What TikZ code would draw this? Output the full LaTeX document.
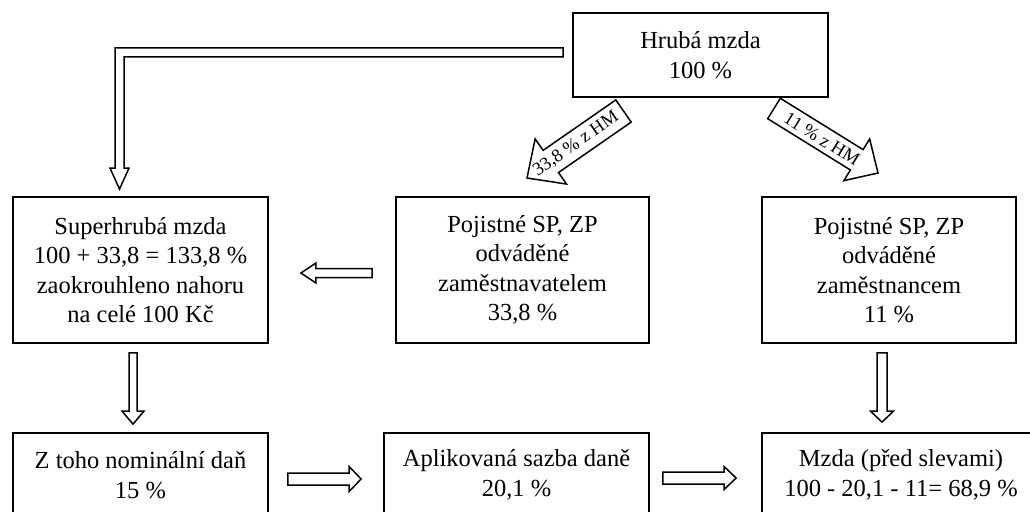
\documentclass[tikz,border=0pt]{standalone}
\usepackage{fontspec}
\setmainfont{Liberation Serif}
\usetikzlibrary{calc}
\newcommand\hollowarrow[6]{% name, start, tip, half shaft, half head, head length
  \coordinate (#1b) at ($(#3)!#6!(#2)$);
  \draw[arr] ($(#2)!#4!90:(#3)$) -- ($(#1b)!#4!90:(#3)$) -- ($(#1b)!#5!90:(#3)$) -- (#3)
    -- ($(#1b)!#5!-90:(#3)$) -- ($(#1b)!#4!-90:(#3)$) -- ($(#2)!#4!-90:(#3)$) -- cycle;}
\begin{document}
\begin{tikzpicture}[x=1pt,y=-1pt,
  box/.style={draw, line width=1.8pt, inner sep=0pt, align=center,
    font=\fontsize{24.5}{29.5}\selectfont},
  arr/.style={draw, fill=white, line width=1.5pt, line join=miter},
  lbl/.style={font=\fontsize{18.5}{18.5}\selectfont, inner sep=0pt}]
\useasboundingbox[fill=white] (0,0) rectangle (1030,511);
% boxes
\node[box, minimum width=255pt, minimum height=84pt] (hm) at (700.5,55) {Hrubá mzda\\100 \%};
\node[box, minimum width=255pt, minimum height=146pt] (shm) at (140.5,270)
  {Superhrubá mzda\\100 + 33,8 = 133,8 \%\\zaokrouhleno nahoru\\na celé 100 Kč};
\node[box, minimum width=253pt, minimum height=146pt] (emp) at (522.5,270)
  {Pojistné SP, ZP\\odváděné\\zaměstnavatelem\\33,8 \%};
\node[box, minimum width=254pt, minimum height=146pt] (zam) at (889,270)
  {Pojistné SP, ZP\\odváděné\\zaměstnancem\\11 \%};
\node[box, minimum width=255pt, minimum height=84pt] (nom) at (140.5,475)
  {Z toho nominální daň\\15 \%};
\node[box, minimum width=265pt, minimum height=84pt] (apl) at (516.5,475)
  {Aplikovaná sazba daně\\20,1 \%};
\node[box, minimum width=278pt, minimum height=84pt] (mz) at (901,475)
  {Mzda (před slevami)\\100 - 20,1 - 11= 68,9 \%};
% L-shaped arrow from Hrubá mzda to Superhrubá mzda
\coordinate (ls) at ($(hm.west)+(-9,-2.5)$);
\coordinate (lt) at ($(shm.north)+(-21,-7)$);
\coordinate (lc) at (lt |- ls);
\draw[arr] ($(ls)+(0,-4.5)$) -- ($(lc)+(-4.5,-4.5)$) -- ($(lt)+(-4.5,-21)$)
  -- ($(lt)+(-9.5,-21)$) -- (lt) -- ($(lt)+(9.5,-21)$) -- ($(lt)+(4.5,-21)$)
  -- ($(lc)+(4.5,4.5)$) -- ($(ls)+(0,4.5)$) -- cycle;
% diagonal arrows
\coordinate (d1s) at (623.5,111);
\coordinate (d1t) at (527,178);
\hollowarrow{d1}{d1s}{d1t}{13.5pt}{27.5pt}{29pt}
\node[lbl, rotate=34.8] (l1) at (576,144) {33,8 \% z HM};
\coordinate (d2s) at (774,108.5);
\coordinate (d2t) at (878,173);
\hollowarrow{d2}{d2s}{d2t}{12pt}{24.5pt}{25pt}
\node[lbl, rotate=-31.8] (l2) at (822,139) {11 \% z HM};
% other arrows
\coordinate (a1s) at ($(emp.west)+(-23,3)$);
\coordinate (a1t) at ($(shm.east)+(32,3)$);
\hollowarrow{a1}{a1s}{a1t}{4.5pt}{10pt}{15pt}
\coordinate (a2s) at ($(shm.south)+(-7.5,9)$);
\coordinate (a2t) at ($(nom.north)+(-7.5,-8)$);
\hollowarrow{a2}{a2s}{a2t}{4pt}{11pt}{13pt}
\coordinate (a3s) at ($(zam.south)+(-7,9)$);
\coordinate (a3t) at ($(mz.north)+(-19,-10)$);
\hollowarrow{a3}{a3s}{a3t}{5pt}{11.5pt}{11pt}
\coordinate (a4s) at ($(nom.east)+(19,4)$);
\coordinate (a4t) at ($(apl.west)+(-22,4)$);
\hollowarrow{a4}{a4s}{a4t}{6pt}{12.5pt}{12pt}
\coordinate (a5s) at ($(apl.east)+(13,3)$);
\coordinate (a5t) at ($(mz.west)+(-25,3)$);
\hollowarrow{a5}{a5s}{a5t}{6pt}{11.5pt}{12pt}
\end{tikzpicture}
\end{document}
